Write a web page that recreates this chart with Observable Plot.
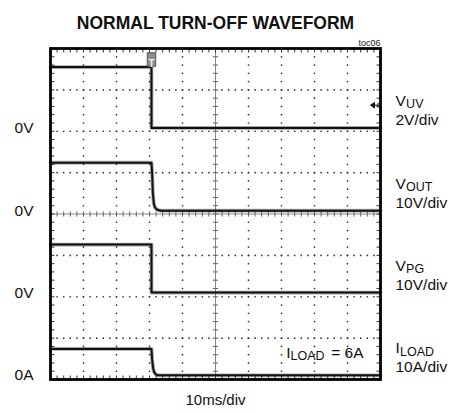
<!DOCTYPE html>
<html>
<head>
<meta charset="utf-8">
<script src="https://cdn.jsdelivr.net/npm/d3@7"></script>
<script src="https://cdn.jsdelivr.net/npm/@observablehq/plot@0.6"></script>
<style>
  html, body { margin: 0; padding: 0; background: #fff; }
  #chart svg { display: block; }
</style>
</head>
<body>
<div id="chart"></div>
<script>
// ---- chart text ----
const title = "NORMAL TURN-OFF WAVEFORM";
const tocLabel = "toc06";
const timeLabel = "10ms/div";
const noteMain = "I";
const noteSub = "LOAD";
const noteRest = "= 6A";

// ---- channels (scope settings) ----
const chanMain = ["V", "V", "V", "I"];
const chanSub = ["UV", "OUT", "PG", "LOAD"];
const chanScale = ["2V/div", "10V/div", "10V/div", "10A/div"];
const chanZeroLabel = ["0V", "0V", "0V", "0A"];
const unitsPerDiv = [2, 10, 10, 10];
const zeroDiv = [6.08, 4.08, 2.10, 0.10]; // channel ground marker, in divisions from bottom

// ---- time axis (ms) ----
const timeDomain = [0, 100];   // 10 div x 10 ms
const triggerMs = 30.6;
const triggerLevelV = 1.1;     // V_UV trigger level

// ---- traces: time (ms) and value (V or A) ----
const vuvT = [0, 30.6, 30.6, 100];
const vuvV = [2.94, 2.94, 0.0, 0.0];

const voutT = [0, 30.6, 30.8, 31.0, 31.3, 31.6, 32.0, 32.6, 33.5, 100];
const voutV = [11.6, 11.6, 9.0, 4.5, 1.8, 0.9, 0.45, 0.15, 0.0, 0.0];

const vpgT = [0, 30.6, 30.6, 100];
const vpgV = [11.6, 11.6, 0.0, 0.0];

const iloadT = [0, 30.6, 30.8, 31.1, 31.4, 31.9, 32.6, 100];
const iloadV = [6.4, 6.4, 3.8, 1.7, 0.8, 0.25, 0.0, 0.0];

const traceT = [vuvT, voutT, vpgT, iloadT];
const traceV = [vuvV, voutV, vpgV, iloadV];

// ---- build tables ----
const traces = traceT.flatMap((ts, c) =>
  ts.map((t, i) => ({ch: c, t, y: zeroDiv[c] + traceV[c][i] / unitsPerDiv[c]})));

const chans = chanMain.map((m, c) => ({c, main: m, sub: chanSub[c], scale: chanScale[c], zero: chanZeroLabel[c], y: zeroDiv[c]}));
const chansV = chans.filter(d => d.main === "V");
const chansI = chans.filter(d => d.main === "I");

// graticule (from scale domains)
const xDivs = d3.range(1, 10).filter(k => k !== 5).map(k => k * 10);
const yDivs = d3.range(1, 8).filter(k => k !== 4);
const yMinor = d3.range(0, 8.0001, 0.2);
const xMinor = d3.range(0, 100.0001, 2);
const gridDots = [
  ...xDivs.flatMap(x => yMinor.map(y => ({x, y}))),
  ...yDivs.flatMap(y => xMinor.map(x => ({x, y})))
];
const hline = {draw(ctx, size) { const r = Math.sqrt(size / Math.PI); ctx.moveTo(-r, 0); ctx.lineTo(r, 0); }};
const vline = {draw(ctx, size) { const r = Math.sqrt(size / Math.PI); ctx.moveTo(0, -r); ctx.lineTo(0, r); }};
const tbox = {draw(ctx, size) { const r = Math.sqrt(size / Math.PI); ctx.rect(-r * 0.62, -r, r * 1.24, r * 2); }};
// left-pointing trigger-level arrow
const larrow = {draw(ctx, size) { const r = Math.sqrt(size / Math.PI);
  ctx.moveTo(-r, 0); ctx.lineTo(0, -r * 0.7); ctx.lineTo(0, r * 0.7); ctx.closePath();
  ctx.moveTo(0, 0); ctx.lineTo(r * 0.9, 0); ctx.moveTo(r * 0.9, -r * 0.6); ctx.lineTo(r * 0.9, r * 0.6); }};

const font = "Liberation Sans, Arial, Helvetica, sans-serif";
const lblSize = 15.5, subSize = 12.5;

const chart = Plot.plot({
  width: 453,
  height: 413,
  marginLeft: 50,
  marginRight: 73,
  marginTop: 48,
  marginBottom: 34,
  style: {fontFamily: font, background: "#fff", color: "#111"},
  x: {domain: timeDomain, axis: null},
  y: {domain: [0, 8], axis: null},
  marks: [
    // graticule dots
    Plot.dot(gridDots, {x: "x", y: "y", r: 0.85, fill: "#333", stroke: null}),
    // center cross
    Plot.ruleX([50], {stroke: "#888", strokeWidth: 1}),
    Plot.ruleY([4], {stroke: "#888", strokeWidth: 1}),
    Plot.dot(yMinor, {x: () => 50, y: d => d, symbol: hline, r: 2.6, stroke: "#666", strokeWidth: 1}),
    Plot.dot(xMinor, {x: d => d, y: () => 4, symbol: vline, r: 2.6, stroke: "#666", strokeWidth: 1}),
    // frame minor ticks
    Plot.dot(yMinor, {x: () => 0, y: d => d, dx: 2, symbol: hline, r: 2, stroke: "#333", strokeWidth: 1}),
    Plot.dot(yMinor, {x: () => 100, y: d => d, dx: -2, symbol: hline, r: 2, stroke: "#333", strokeWidth: 1}),
    Plot.dot(xMinor, {x: d => d, y: () => 8, dy: 2, symbol: vline, r: 2, stroke: "#333", strokeWidth: 1}),
    Plot.dot(xMinor, {x: d => d, y: () => 0, dy: -2, symbol: vline, r: 2, stroke: "#333", strokeWidth: 1}),
    // traces (fuzzy look: wide faint + core)
    Plot.line(traces, {x: "t", y: "y", z: "ch", stroke: "#222", strokeWidth: 3.8, strokeOpacity: 0.4}),
    Plot.line(traces, {x: "t", y: "y", z: "ch", stroke: "#111", strokeWidth: 2}),
    // frame
    Plot.frame({stroke: "#000", strokeWidth: 2.8}),
    // trigger marker
    Plot.dot([triggerMs], {x: d => d, frameAnchor: "top", dy: 11, symbol: tbox, r: 6.8, fill: "#8c8c8c", stroke: "#555", strokeWidth: 1}),
    Plot.text([triggerMs], {x: d => d, frameAnchor: "top", dy: 11, text: () => "T", fill: "#eee", fontWeight: "bold", fontSize: 10}),
    // trigger level arrow
    Plot.dot([zeroDiv[0] + triggerLevelV / unitsPerDiv[0]], {x: () => 100, y: d => d, dx: -6, symbol: larrow, r: 4, fill: "#111", stroke: "#111", strokeWidth: 1}),
    // title / captions
    Plot.text([title], {frameAnchor: "top", dy: -20, lineAnchor: "bottom", fontSize: 17.5, fontWeight: "bold", fill: "#111"}),
    Plot.text([tocLabel], {frameAnchor: "top-right", dy: -3, lineAnchor: "bottom", textAnchor: "end", fontSize: 9, fill: "#222"}),
    Plot.text([timeLabel], {frameAnchor: "bottom", dy: 15, lineAnchor: "top", fontSize: 15, fill: "#111"}),
    // left zero labels
    Plot.text(chans, {x: () => 0, y: "y", dx: -17, text: "zero", textAnchor: "end", fontSize: lblSize, fill: "#111"}),
    // right channel labels
    Plot.text(chans, {x: () => 100, y: "y", dx: 15, dy: -22, text: "main", textAnchor: "start", lineAnchor: "bottom", fontSize: lblSize, fill: "#111"}),
    Plot.text(chansV, {x: () => 100, y: "y", dx: 25.6, dy: -19.5, text: "sub", textAnchor: "start", lineAnchor: "bottom", fontSize: subSize, fill: "#111"}),
    Plot.text(chansI, {x: () => 100, y: "y", dx: 19.6, dy: -19.5, text: "sub", textAnchor: "start", lineAnchor: "bottom", fontSize: subSize, fill: "#111"}),
    Plot.text(chans, {x: () => 100, y: "y", dx: 15, dy: -3, text: "scale", textAnchor: "start", lineAnchor: "bottom", fontSize: lblSize, fill: "#111"}),
    // note inside graticule: I_LOAD = 6A
    Plot.text([noteRest], {frameAnchor: "bottom-right", dx: -17, dy: -22, textAnchor: "end", lineAnchor: "bottom", fontSize: lblSize, fill: "#111"}),
    Plot.text([noteSub], {frameAnchor: "bottom-right", dx: -56, dy: -19.5, textAnchor: "end", lineAnchor: "bottom", fontSize: subSize, fill: "#111"}),
    Plot.text([noteMain], {frameAnchor: "bottom-right", dx: -90, dy: -22, textAnchor: "end", lineAnchor: "bottom", fontSize: lblSize, fill: "#111"})
  ]
});

document.getElementById("chart").append(chart);
</script>
</body>
</html>
